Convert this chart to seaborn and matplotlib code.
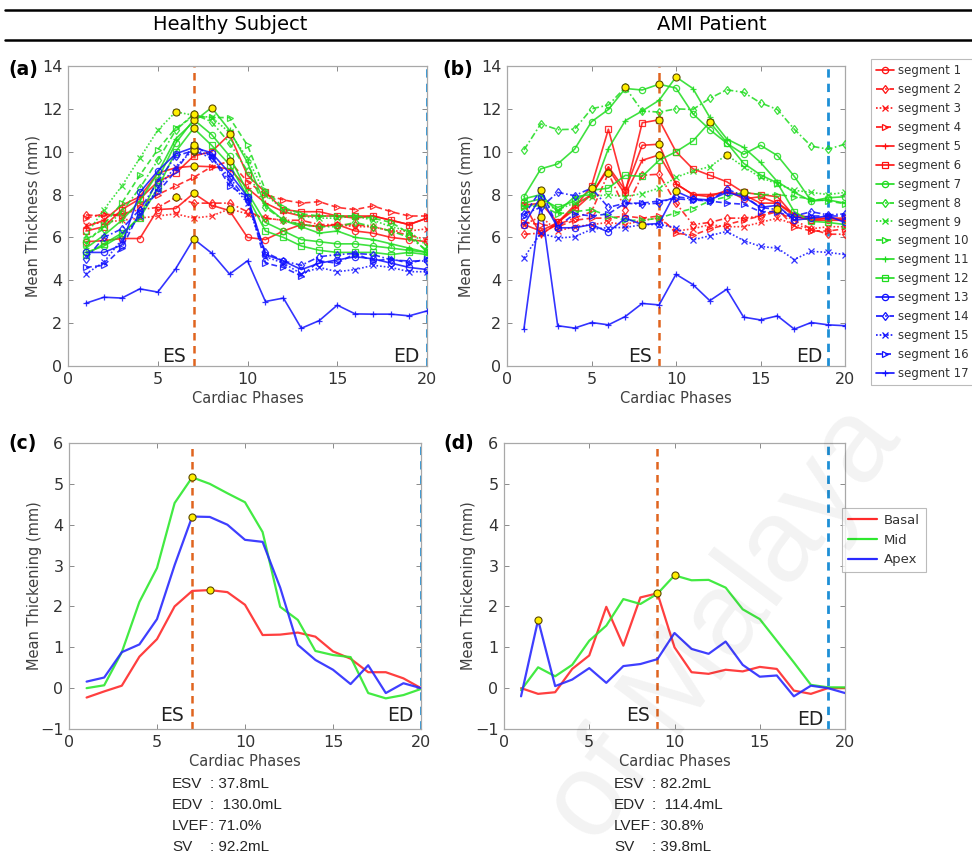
import matplotlib
matplotlib.use("Agg")
import numpy as np
import pandas as pd
import matplotlib.pyplot as plt
import seaborn as sns
from matplotlib.lines import Line2D

# ---------------- data ----------------
phases = list(range(1, 21))
seg_labels = [f"segment {i}" for i in range(1, 18)]

# Healthy subject: mean thickness (mm) per segment
healthy_seg01 = [5.8, 5.85, 5.95, 5.95, 7.3, 7.35, 8.06, 7.5, 7.25, 6.0, 5.9, 6.3, 6.6, 6.5, 6.6, 6.3, 6.2, 6.0, 5.9, 5.8]
healthy_seg02 = [7.05, 7.0, 7.1, 7.3, 7.4, 7.87, 7.6, 7.6, 7.6, 7.2, 6.9, 6.8, 6.8, 6.6, 6.6, 6.6, 6.5, 6.3, 6.1, 5.9]
healthy_seg03 = [6.6, 6.7, 6.8, 6.9, 7.0, 7.1, 6.9, 7.0, 7.33, 7.1, 6.9, 6.8, 6.6, 6.5, 6.6, 6.5, 6.5, 6.3, 6.3, 6.4]
healthy_seg04 = [6.9, 7.1, 7.0, 7.5, 8.0, 8.4, 8.8, 9.3, 9.56, 8.6, 8.0, 7.75, 7.6, 7.67, 7.4, 7.3, 7.47, 7.2, 7.0, 7.0]
healthy_seg05 = [6.5, 6.8, 7.5, 7.9, 9.0, 9.25, 9.33, 9.3, 9.2, 8.3, 7.6, 7.2, 7.0, 7.0, 7.0, 6.9, 7.0, 6.8, 6.6, 6.9]
healthy_seg06 = [6.3, 6.5, 7.3, 7.8, 8.6, 9.0, 9.8, 10.0, 10.81, 8.9, 8.1, 7.3, 7.2, 7.2, 7.0, 7.0, 7.0, 6.8, 6.6, 6.9]
healthy_seg07 = [5.3, 5.6, 6.1, 7.0, 8.7, 10.4, 11.5, 10.8, 9.8, 8.1, 6.7, 6.3, 5.9, 5.8, 5.7, 5.7, 5.6, 5.5, 5.4, 5.3]
healthy_seg08 = [5.9, 6.4, 7.2, 8.3, 9.6, 11.0, 11.75, 11.4, 10.4, 9.1, 7.4, 6.8, 6.6, 6.5, 6.5, 6.7, 6.5, 6.3, 6.0, 5.4]
healthy_seg09 = [6.1, 7.3, 8.4, 9.7, 11.0, 11.86, 11.7, 11.6, 10.9, 9.7, 8.0, 7.3, 7.0, 6.9, 6.9, 7.0, 6.8, 6.5, 6.3, 5.6]
healthy_seg10 = [5.7, 6.6, 7.6, 8.9, 10.1, 11.1, 11.65, 11.6, 11.59, 10.3, 8.2, 7.4, 7.1, 7.0, 7.0, 7.0, 6.9, 6.7, 6.2, 5.3]
healthy_seg11 = [5.5, 6.1, 6.8, 7.7, 9.0, 10.6, 11.4, 12.06, 11.0, 9.5, 7.5, 6.8, 6.5, 6.2, 6.3, 6.0, 5.9, 5.7, 5.5, 5.3]
healthy_seg12 = [5.2, 5.7, 6.2, 6.9, 8.3, 10.0, 11.1, 10.3, 9.4, 7.9, 6.3, 6.0, 5.6, 5.4, 5.3, 5.3, 5.3, 5.2, 5.3, 5.2]
healthy_seg13 = [5.3, 5.3, 5.65, 8.1, 9.1, 9.9, 10.2, 9.95, 9.0, 7.9, 5.2, 4.9, 4.5, 4.8, 4.95, 5.1, 5.0, 4.8, 4.6, 4.5]
healthy_seg14 = [5.0, 6.0, 6.4, 7.3, 8.6, 9.8, 10.05, 9.7, 8.8, 7.7, 5.3, 4.9, 4.7, 5.1, 5.2, 5.25, 5.2, 4.95, 4.9, 4.9]
healthy_seg15 = [4.3, 4.85, 5.9, 7.0, 8.3, 9.3, 10.1, 9.8, 8.6, 7.6, 5.1, 4.8, 4.3, 4.6, 4.4, 4.5, 4.7, 4.6, 4.4, 4.4]
healthy_seg16 = [4.6, 4.7, 5.5, 7.2, 8.1, 9.1, 10.3, 9.8, 8.4, 7.9, 4.8, 4.6, 4.2, 4.9, 4.8, 5.25, 4.9, 5.0, 4.8, 5.0]
healthy_seg17 = [2.93, 3.21, 3.17, 3.6, 3.45, 4.54, 5.93, 5.27, 4.29, 4.91, 3.01, 3.17, 1.76, 2.12, 2.84, 2.43, 2.42, 2.42, 2.34, 2.57]

# AMI patient: mean thickness (mm) per segment
ami_seg01 = [6.6, 6.3, 6.7, 7.3, 8.0, 9.3, 8.2, 10.3, 10.35, 8.5, 8.0, 7.9, 8.2, 7.8, 7.9, 7.6, 7.0, 6.8, 6.8, 6.8]
ami_seg02 = [6.15, 6.2, 6.6, 6.9, 7.2, 9.0, 7.3, 8.9, 8.95, 7.6, 6.6, 6.7, 6.9, 6.9, 7.0, 7.2, 6.8, 6.4, 6.15, 6.15]
ami_seg03 = [6.6, 6.97, 6.3, 6.5, 6.6, 6.7, 6.6, 6.8, 6.9, 6.3, 6.4, 6.6, 6.5, 6.5, 6.7, 6.9, 6.6, 6.4, 6.5, 6.5]
ami_seg04 = [6.7, 6.6, 6.5, 6.8, 6.9, 6.9, 7.0, 6.9, 7.0, 6.2, 6.1, 6.4, 6.6, 6.8, 7.0, 7.32, 6.5, 6.3, 6.3, 6.4]
ami_seg05 = [7.6, 6.1, 6.7, 7.5, 8.0, 9.2, 8.0, 9.6, 9.85, 8.5, 8.0, 8.0, 8.1, 8.0, 7.6, 7.6, 7.1, 6.9, 6.9, 6.8]
ami_seg06 = [7.5, 7.6, 6.7, 7.4, 8.4, 11.05, 8.1, 11.35, 11.49, 10.0, 9.2, 8.9, 8.6, 8.1, 8.0, 7.9, 7.0, 6.8, 6.9, 6.9]
ami_seg07 = [7.9, 9.2, 9.43, 10.12, 11.4, 11.97, 12.95, 12.88, 13.15, 12.97, 11.77, 11.03, 10.4, 9.88, 10.3, 9.82, 8.85, 7.7, 7.85, 7.9]
ami_seg08 = [10.08, 11.3, 11.03, 11.05, 12.0, 12.18, 13.0, 11.9, 11.85, 12.0, 11.97, 12.49, 12.89, 12.77, 12.28, 11.97, 11.05, 10.26, 10.12, 10.35]
ami_seg09 = [7.4, 7.6, 7.3, 7.6, 7.9, 8.0, 7.9, 8.05, 8.3, 8.8, 9.1, 9.3, 9.85, 9.3, 8.8, 8.5, 8.2, 8.1, 8.0, 8.1]
ami_seg10 = [7.4, 7.5, 7.1, 7.2, 7.3, 7.0, 6.8, 6.8, 6.9, 7.15, 7.35, 7.7, 7.9, 8.1, 8.0, 8.0, 7.9, 7.8, 7.7, 7.57]
ami_seg11 = [7.8, 8.0, 7.2, 7.9, 8.0, 10.15, 11.45, 11.9, 12.4, 13.49, 12.95, 11.6, 10.6, 10.2, 9.5, 8.6, 8.1, 7.7, 7.75, 7.6]
ami_seg12 = [7.6, 7.8, 7.4, 7.7, 8.2, 8.3, 8.9, 8.85, 9.6, 10.0, 10.5, 11.38, 10.43, 9.46, 8.92, 8.54, 7.2, 6.75, 6.7, 6.6]
ami_seg13 = [6.6, 7.9, 6.45, 6.45, 6.6, 6.25, 6.9, 6.6, 6.65, 8.15, 7.8, 7.75, 8.1, 7.9, 7.4, 7.5, 6.8, 6.9, 7.0, 6.7]
ami_seg14 = [7.1, 7.4, 8.1, 7.95, 8.3, 7.4, 7.6, 7.55, 7.6, 7.9, 7.8, 7.7, 8.25, 7.95, 7.4, 7.3, 7.0, 7.2, 7.05, 7.1]
ami_seg15 = [5.05, 6.2, 5.97, 6.03, 6.38, 6.46, 6.46, 6.6, 6.6, 6.46, 5.88, 6.08, 6.28, 5.85, 5.58, 5.5, 4.97, 5.35, 5.3, 5.2]
ami_seg16 = [7.0, 8.23, 6.5, 7.1, 7.0, 7.1, 7.6, 7.6, 7.7, 7.8, 7.75, 7.7, 7.6, 7.55, 7.2, 7.2, 6.9, 7.0, 7.0, 7.0]
ami_seg17 = [1.72, 7.6, 1.88, 1.77, 2.03, 1.92, 2.31, 2.92, 2.85, 4.28, 3.8, 3.05, 3.58, 2.28, 2.15, 2.34, 1.72, 2.03, 1.92, 1.88]

# Mean thickening (mm) per region
region_labels = ["Basal", "Mid", "Apex"]
healthy_basal = [-0.23, -0.08, 0.06, 0.77, 1.2, 2.0, 2.38, 2.4, 2.35, 2.04, 1.3, 1.31, 1.36, 1.26, 0.9, 0.72, 0.39, 0.39, 0.24, 0.0]
healthy_mid = [0.0, 0.07, 0.88, 2.11, 2.94, 4.53, 5.16, 5.0, 4.77, 4.55, 3.82, 1.99, 1.67, 0.91, 0.81, 0.76, -0.12, -0.25, -0.17, -0.02]
healthy_apex = [0.16, 0.26, 0.88, 1.07, 1.69, 3.01, 4.2, 4.19, 4.0, 3.63, 3.58, 2.46, 1.06, 0.69, 0.45, 0.1, 0.56, -0.12, 0.12, 0.0]
ami_basal = [0.0, -0.14, -0.1, 0.47, 0.8, 1.99, 1.04, 2.22, 2.32, 1.0, 0.39, 0.35, 0.45, 0.41, 0.52, 0.47, -0.06, -0.14, 0.0, 0.0]
ami_mid = [-0.05, 0.51, 0.29, 0.57, 1.16, 1.53, 2.18, 2.06, 2.31, 2.76, 2.64, 2.65, 2.46, 1.93, 1.69, 1.16, 0.63, 0.08, 0.02, 0.02]
ami_apex = [-0.2, 1.67, 0.05, 0.21, 0.49, 0.13, 0.54, 0.59, 0.71, 1.35, 0.96, 0.84, 1.14, 0.57, 0.28, 0.31, -0.2, 0.06, 0.0, -0.12]

healthy_es, healthy_ed = 7, 20
ami_es, ami_ed = 9, 19
stat_names = ["ESV", "EDV", "LVEF", "SV"]
healthy_stats = [": 37.8mL", ":  130.0mL", ": 71.0%", ": 92.2mL"]
ami_stats = [": 82.2mL", ":  114.4mL", ": 30.8%", ": 39.8mL"]

healthy_segs = [healthy_seg01, healthy_seg02, healthy_seg03, healthy_seg04, healthy_seg05, healthy_seg06,
                healthy_seg07, healthy_seg08, healthy_seg09, healthy_seg10, healthy_seg11, healthy_seg12,
                healthy_seg13, healthy_seg14, healthy_seg15, healthy_seg16, healthy_seg17]
ami_segs = [ami_seg01, ami_seg02, ami_seg03, ami_seg04, ami_seg05, ami_seg06,
            ami_seg07, ami_seg08, ami_seg09, ami_seg10, ami_seg11, ami_seg12,
            ami_seg13, ami_seg14, ami_seg15, ami_seg16, ami_seg17]

# ---------------- styles ----------------
RED, GREEN, BLUE = "#ff1010", "#1edc1e", "#1010ff"
seg_colors = [RED] * 6 + [GREEN] * 6 + [BLUE] * 5
seg_markers = ["o", "d", "x", ">", "+", "s"] * 2 + ["o", "d", "x", ">", "+"]
seg_ls = ["-", (0, (4, 1.5, 1, 1.5)), (0, (1, 1.2)), (0, (3.5, 2)), "-", "-"] * 2 + \
         ["-", (0, (4, 1.5, 1, 1.5)), (0, (1, 1.2)), (0, (3.5, 2)), "-"]
region_colors = ["#ff2a2a", "#2ee82e", "#2a2aff"]
ES_COLOR, ED_COLOR = "#e0641e", "#1e8fd6"

sns.set_theme(style="white")
plt.rcParams["font.family"] = ["DejaVu Sans"]

W, H = 972, 861
fig = plt.figure(figsize=(W / 100, H / 100), dpi=100)


def fx(px):
    return px / W


def fy(py):
    return 1 - py / H


ax_a = fig.add_axes([fx(68), fy(366), (427 - 68) / W, 300 / H])
ax_b = fig.add_axes([fx(507), fy(366), (845 - 507) / W, 300 / H])
ax_c = fig.add_axes([fx(69), fy(729), (421 - 69) / W, 286 / H])
ax_d = fig.add_axes([fx(504), fy(729), (845 - 504) / W, 286 / H])


def style_ax(ax, ylim, yticks, ylabel, ylab_x):
    ax.set_xlim(0, 20)
    ax.set_ylim(*ylim)
    ax.set_xticks([0, 5, 10, 15, 20])
    ax.set_yticks(yticks)
    ax.tick_params(direction="in", length=3.5, width=0.7, color="#8a8a8a", labelcolor="#333333",
                   labelsize=11.5, top=True, right=True, bottom=True, left=True, pad=4)
    for s in ax.spines.values():
        s.set_visible(True)
        s.set_color("#a8a8a8")
        s.set_linewidth(0.9)
    ax.set_xlabel("Cardiac Phases", fontsize=10.5, color="#404040", labelpad=3)
    ax.set_ylabel(ylabel, fontsize=10.5, color="#404040")
    ax.yaxis.set_label_coords(ylab_x, 0.5)
    ax.yaxis.label.set_va("center")
    ax.set_facecolor("white")


def draw_segments(ax, segs):
    df = pd.DataFrame({
        "phase": np.tile(phases, len(segs)),
        "thickness": np.concatenate([np.asarray(s, float) for s in segs]),
        "segment": np.repeat(seg_labels, len(phases)),
    })
    for i, lab in enumerate(seg_labels):
        sub = df[df["segment"] == lab]
        c = seg_colors[i]
        sns.lineplot(data=sub, x="phase", y="thickness", ax=ax, color=c, linestyle=seg_ls[i],
                     marker=seg_markers[i], markersize=4.5, markerfacecolor="none",
                     markeredgecolor=c, markeredgewidth=0.9, linewidth=1.2, alpha=0.85,
                     legend=False, zorder=3)
    peaks = df.loc[df.groupby("segment")["thickness"].idxmax()]
    sns.scatterplot(data=peaks, x="phase", y="thickness", ax=ax, color="#ffee00", s=26,
                    edgecolor="#5a4800", linewidth=0.8, zorder=6, legend=False)


def draw_regions(ax, series):
    df = pd.DataFrame({
        "phase": np.tile(phases, 3),
        "thick": np.concatenate([np.asarray(s, float) for s in series]),
        "region": np.repeat(region_labels, len(phases)),
    })
    sns.lineplot(data=df, x="phase", y="thick", hue="region", palette=dict(zip(region_labels, region_colors)),
                 ax=ax, linewidth=1.6, alpha=0.9, legend=False, zorder=3)
    peaks = df.loc[df.groupby("region")["thick"].idxmax()]
    sns.scatterplot(data=peaks, x="phase", y="thick", ax=ax, color="#ffee00", s=26,
                    edgecolor="#5a4800", linewidth=0.8, zorder=6, legend=False)


def es_ed(ax, es, ed, y_es, y_ed, gap_es, gap_ed):
    ax.axvline(es, color=ES_COLOR, linestyle=(0, (3, 2.2)), linewidth=1.8, zorder=2)
    ax.axvline(ed, color=ED_COLOR, linestyle=(0, (3, 2.2)), linewidth=2.0, zorder=2)
    ax.text(es - gap_es, y_es, "ES", ha="right", va="baseline", fontsize=13.5, color="#222222")
    ax.text(ed - gap_ed, y_ed, "ED", ha="right", va="baseline", fontsize=13.5, color="#222222")


draw_segments(ax_a, healthy_segs)
draw_segments(ax_b, ami_segs)
draw_regions(ax_c, [healthy_basal, healthy_mid, healthy_apex])
draw_regions(ax_d, [ami_basal, ami_mid, ami_apex])

style_ax(ax_a, (0, 14), range(0, 15, 2), "Mean Thickness (mm)", -0.097)
style_ax(ax_b, (0, 14), range(0, 15, 2), "Mean Thickness (mm)", -0.121)
style_ax(ax_c, (-1, 6), range(-1, 7), "Mean Thickening (mm)", -0.097)
style_ax(ax_d, (-1, 6), range(-1, 7), "Mean Thickening (mm)", -0.103)

es_ed(ax_a, healthy_es, healthy_ed, 0.2, 0.2, 0.42, 0.39)
es_ed(ax_b, ami_es, ami_ed, 0.2, 0.2, 0.4, 0.35)
es_ed(ax_c, healthy_es, healthy_ed, -0.8, -0.8, 0.45, 0.4)
es_ed(ax_d, ami_es, ami_ed, -0.8, -0.9, 0.45, 0.28)

# legends
seg_handles = [Line2D([0], [0], color=seg_colors[i], linestyle=seg_ls[i], marker=seg_markers[i],
                      markersize=4.5, markerfacecolor="none", markeredgecolor=seg_colors[i],
                      markeredgewidth=0.9, linewidth=1.2) for i in range(17)]
leg1 = fig.legend(seg_handles, seg_labels, loc="upper left", bbox_to_anchor=(fx(871), fy(59)),
                  fontsize=8.5, handlelength=1.5, handletextpad=0.3, labelspacing=0.5,
                  borderpad=0.45, borderaxespad=0, frameon=True, fancybox=False)
leg1.get_frame().set_edgecolor("#aaaaaa")
leg1.get_frame().set_linewidth(0.8)
for t in leg1.get_texts():
    t.set_color("#333333")

reg_handles = [Line2D([0], [0], color=c, linewidth=1.6) for c in region_colors]
leg2 = fig.legend(reg_handles, region_labels, loc="upper left", bbox_to_anchor=(fx(842), fy(508)),
                  fontsize=9.5, handlelength=2.2, handletextpad=0.5, labelspacing=0.5,
                  borderpad=0.45, borderaxespad=0, frameon=True, fancybox=False)
leg2.get_frame().set_edgecolor("#aaaaaa")
leg2.get_frame().set_linewidth(0.8)
for t in leg2.get_texts():
    t.set_color("#333333")

# header
fig.add_artist(Line2D([fx(5), 1.0], [fy(10), fy(10)], color="black", linewidth=1.8, transform=fig.transFigure))
fig.add_artist(Line2D([fx(5), 1.0], [fy(40), fy(40)], color="black", linewidth=1.8, transform=fig.transFigure))
fig.text(fx(230), fy(25), "Healthy Subject", ha="center", va="center", fontsize=14, color="black")
fig.text(fx(712), fy(25), "AMI Patient", ha="center", va="center", fontsize=14, color="black")

for lab, x, y in [("(a)", 8, 70), ("(b)", 442, 70), ("(c)", 8, 443), ("(d)", 443, 443)]:
    fig.text(fx(x), fy(y), lab, ha="left", va="center", fontsize=13.5, fontweight="bold", color="black")

# stats text
stat_font = ["Liberation Sans", "DejaVu Sans"]
for i, (n, hv, av) in enumerate(zip(stat_names, healthy_stats, ami_stats)):
    yy = fy(784 + 21 * i)
    fig.text(fx(172), yy, n, ha="left", va="center", fontsize=11, family=stat_font)
    fig.text(fx(210), yy, hv, ha="left", va="center", fontsize=11, family=stat_font)
    fig.text(fx(614), yy, n, ha="left", va="center", fontsize=11, family=stat_font)
    fig.text(fx(652), yy, av, ha="left", va="center", fontsize=11, family=stat_font)

# faint watermark
fig.text(fx(725), fy(625), "of Malaya", rotation=53, fontsize=85, color="black", alpha=0.05,
         ha="center", va="center", family=["Liberation Sans", "DejaVu Sans"], zorder=10)

fig.savefig("out.png", dpi=100, facecolor="white")
